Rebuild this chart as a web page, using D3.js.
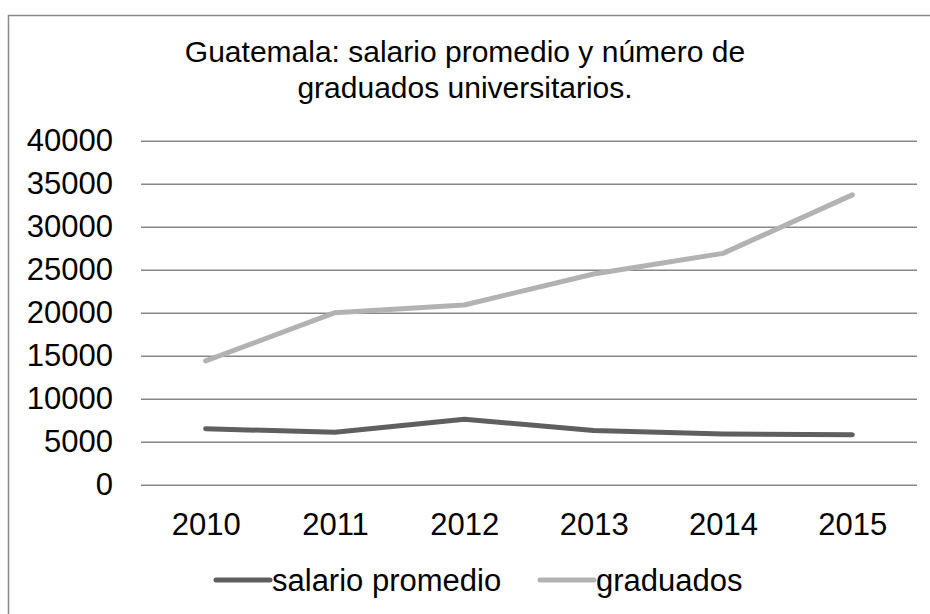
<!DOCTYPE html>
<html>
<head>
<meta charset="utf-8">
<script src="https://cdn.jsdelivr.net/npm/d3@7"></script>
<style>
  body { margin: 0; background: #fff; }
  text { font-family: "Liberation Sans", Arial, sans-serif; fill: #000; }
</style>
</head>
<body>
<script>
let years = ['2010', '2011', '2012', '2013', '2014', '2015']
let salarioPromedio = [6500, 6100, 7600, 6300, 5900, 5800]
let graduados = [14400, 20000, 20900, 24500, 26900, 33700]
let yTicks = [0, 5000, 10000, 15000, 20000, 25000, 30000, 35000, 40000]
let titleLines = ['Guatemala: salario promedio y número de', 'graduados universitarios.']

let series = [
  {name: 'salario promedio', values: salarioPromedio, color: '#5f5f5f'},
  {name: 'graduados', values: graduados, color: '#b2b2b2'},
]

let W = 930
let H = 614
let plot = {left: 141, right: 917, top: 140.7, bottom: 484.7}

let svg = d3.select('body').append('svg')
  .attr('width', W)
  .attr('height', H)

// outer chart frame
svg.append('rect')
  .attr('x', 8.5).attr('y', 15.5)
  .attr('width', W).attr('height', H)
  .attr('fill', 'none')
  .attr('stroke', '#8a8a8a')
  .attr('stroke-width', 1.5)

let x = d3.scalePoint().domain(years).range([plot.left, plot.right]).padding(0.5)
let y = d3.scaleLinear().domain([0, 40000]).range([plot.bottom, plot.top])

// title
svg.append('text')
  .attr('x', 465).attr('y', 62)
  .attr('text-anchor', 'middle')
  .style('font-size', '30px')
  .selectAll('tspan').data(titleLines).enter()
  .append('tspan')
  .attr('x', 465)
  .attr('dy', (d, i) => i === 0 ? 0 : 36)
  .text(d => d)

// y axis with gridlines
let yAxis = svg.append('g')
  .attr('transform', `translate(${plot.left},0)`)
  .call(d3.axisLeft(y).tickValues(yTicks).tickSize(-(plot.right - plot.left))
    .tickPadding(28).tickFormat(d3.format('d')))
yAxis.select('.domain').remove()
yAxis.selectAll('.tick line').attr('stroke', '#878787').attr('stroke-width', 1.4)
yAxis.selectAll('.tick text')
  .style('font-size', '31px')
  .style('font-family', '"Liberation Sans", Arial, sans-serif')
  .attr('fill', '#000')

// x axis labels
let xAxis = svg.append('g')
  .attr('transform', `translate(0,${plot.bottom})`)
  .call(d3.axisBottom(x).tickSize(0).tickPadding(28))
xAxis.select('.domain').remove()
xAxis.selectAll('.tick text')
  .style('font-size', '31px')
  .style('font-family', '"Liberation Sans", Arial, sans-serif')
  .attr('fill', '#000')

// lines
let line = d3.line()
  .x((d, i) => x(years[i]))
  .y(d => y(d))

svg.selectAll('path.series').data(series).enter()
  .append('path')
  .attr('class', 'series')
  .attr('d', d => line(d.values))
  .attr('fill', 'none')
  .attr('stroke', d => d.color)
  .attr('stroke-width', 5)
  .attr('stroke-linecap', 'round')
  .attr('stroke-linejoin', 'round')

// legend
let legendX = [216, 540]
let legend = svg.selectAll('g.legend').data(series).enter()
  .append('g')
  .attr('class', 'legend')
  .attr('transform', (d, i) => `translate(${legendX[i]},580)`)
legend.append('line')
  .attr('x1', 0).attr('x2', 54)
  .attr('y1', 0).attr('y2', 0)
  .attr('stroke', d => d.color)
  .attr('stroke-width', 5)
  .attr('stroke-linecap', 'round')
legend.append('text')
  .attr('x', 56).attr('y', 11)
  .style('font-size', '31px')
  .text(d => d.name)
</script>
</body>
</html>
